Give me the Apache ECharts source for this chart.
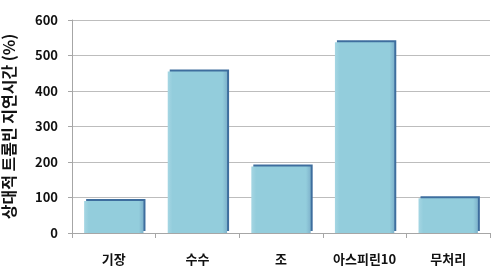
<!DOCTYPE html>
<html><head><meta charset="utf-8">
<script src="https://cdn.jsdelivr.net/npm/echarts@6/dist/echarts.min.js"></script>
<style>html,body{margin:0;padding:0;background:#fff}#c{width:500px;height:276px}</style>
</head><body><div id="c"></div>
<script>
const categories = ['기장', '수수', '조', '아스피린10', '무처리'];
const values = [90, 455, 187, 537, 98];
const yTicks = { min: 0, max: 600, interval: 100 };
const yName = '상대적 트롬빈 지연시간 (%)';

const chart = echarts.init(document.getElementById('c'));
const font = '"Noto Sans CJK KR", sans-serif';
chart.setOption({
  animation: false,
  grid: { left: 72, right: 10, top: 20, bottom: 43, containLabel: false, outerBoundsMode: 'none' },
  xAxis: {
    type: 'category', data: categories,
    axisLine: { lineStyle: { color: '#A6A6A6' } },
    axisTick: { show: true, length: 5, interval: 0, lineStyle: { color: '#A6A6A6' } },
    axisLabel: { interval: 0, hideOverlap: false, color: '#111', fontSize: 13, fontWeight: 'bold', fontFamily: font, margin: 20 }
  },
  yAxis: {
    type: 'value', min: yTicks.min, max: yTicks.max, interval: yTicks.interval,
    name: yName, nameLocation: 'middle', nameGap: 55, nameRotate: 90,
    nameTextStyle: { color: '#111', fontSize: 16, fontWeight: 'bold', fontFamily: font },
    axisLine: { show: true, lineStyle: { color: '#A6A6A6' } },
    axisTick: { show: true, length: 4, lineStyle: { color: '#A6A6A6' } },
    splitLine: { lineStyle: { color: '#BDBDBD', width: 1 } },
    axisLabel: { color: '#111', fontSize: 13, fontWeight: 'bold', fontFamily: font, margin: 14 }
  },
  series: [{
    type: 'bar', data: values, barCategoryGap: '29%',
    itemStyle: {
      color: {
        type: 'linear', x: 0, y: 0, x2: 1, y2: 0,
        colorStops: [{ offset: 0, color: '#A5D6E3' }, { offset: 0.08, color: '#93CDDC' }, { offset: 0.92, color: '#93CDDC' }, { offset: 1, color: '#7FB3CC' }]
      },
      shadowColor: '#3E6E9E', shadowOffsetX: 2, shadowOffsetY: -2, shadowBlur: 0
    }
  }]
});
</script></body></html>
